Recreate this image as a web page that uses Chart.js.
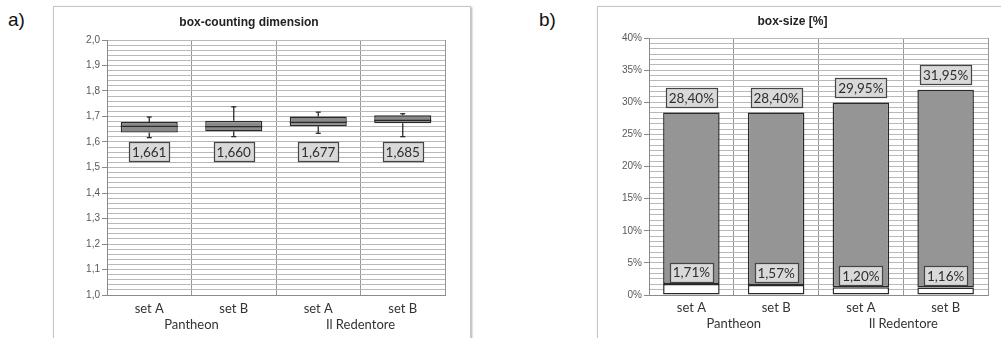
<!DOCTYPE html>
<html>
<head>
<meta charset="utf-8">
<script src="https://cdn.jsdelivr.net/npm/chart.js@4.4.1/dist/chart.umd.min.js"></script>
<style>
  html, body { margin: 0; padding: 0; background: #fff; overflow: hidden; }
  body { width: 1001px; height: 338px; position: relative; }
  .frame { position: absolute; box-sizing: border-box; border: 1px solid #c6c6c6; box-shadow: 1px 1px 2px #b0b0b0; }
  .panel { position: absolute; }
  .tag { position: absolute; font: 19px "Liberation Sans", Arial, sans-serif; color: #111; }
</style>
</head>
<body>
<div class="tag" style="left:8px; top:9px;">a)</div>
<div class="tag" style="left:539px; top:9px;">b)</div>
<div class="frame" style="left:53px; top:6px; width:418px; height:400px;"></div>
<div class="frame" style="left:597px; top:6px; width:430px; height:400px;"></div>
<canvas id="dimChart" class="panel" width="417" height="332" style="left:53px; top:6px;"></canvas>
<canvas id="sizeChart" class="panel" width="415" height="332" style="left:597px; top:6px;"></canvas>
<script>
// categories
const sets = ['set A', 'set B', 'set A', 'set B'];
const groups = ['Pantheon', 'Il Redentore'];

// box-counting dimension (box plot)
const whiskerLow  = [1.617, 1.621, 1.634, 1.621];
const boxLow      = [1.637, 1.642, 1.662, 1.674];
const median      = [1.661, 1.660, 1.677, 1.685];
const boxHigh     = [1.678, 1.683, 1.700, 1.705];
const whiskerHigh = [1.698, 1.738, 1.717, 1.711];

// box-size [%]
const sizeTotal = [28.40, 28.40, 29.95, 31.95];
const sizeMin   = [1.71, 1.57, 1.20, 1.16];

const tickFont = { family: '"Liberation Sans", Arial, sans-serif', size: 10 };
const catFont = { family: 'Lato, sans-serif', size: 13 };
const gridGray = '#b9b9b9';
const axisGray = '#8a8a8a';

function fmt(v, d) { return v.toFixed(d).replace('.', ','); }

function drawTag(ctx, text, cx, cy) {
  ctx.save();
  ctx.font = '13.5px Lato, sans-serif';
  const w = Math.round(ctx.measureText(text).width + 6), h = 19;
  const x0 = Math.round(cx - w / 2) + 0.5, y0 = Math.round(cy - h / 2) + 0.5;
  ctx.fillStyle = '#d9d9d9';
  ctx.fillRect(x0, y0, w, h);
  ctx.strokeStyle = '#454545';
  ctx.lineWidth = 1.2;
  ctx.strokeRect(x0, y0, w, h);
  ctx.fillStyle = '#2e2e2e';
  ctx.textAlign = 'center';
  ctx.textBaseline = 'middle';
  ctx.fillText(text, cx, cy + 1);
  ctx.restore();
}

function line(ctx, x1, y1, x2, y2) {
  ctx.beginPath();
  ctx.moveTo(x1, y1);
  ctx.lineTo(x2, y2);
  ctx.stroke();
}

const boxExtras = {
  id: 'boxExtras',
  afterDatasetsDraw(chart, args, opts) {
    const ctx = chart.ctx, y = chart.scales.y;
    const meta = chart.getDatasetMeta(0);
    ctx.save();
    ctx.strokeStyle = '#2a2a2a';
    ctx.lineWidth = 1.3;
    meta.data.forEach((bar, i) => {
      const cx = bar.x, half = bar.width / 2;
      const ym = y.getPixelForValue(median[i]);
      line(ctx, cx - half, ym, cx + half, ym);
      const yh = y.getPixelForValue(whiskerHigh[i]);
      const yl = y.getPixelForValue(whiskerLow[i]);
      line(ctx, cx, y.getPixelForValue(boxHigh[i]), cx, yh);
      line(ctx, cx - 2.5, yh, cx + 2.5, yh);
      line(ctx, cx, y.getPixelForValue(boxLow[i]), cx, yl);
      line(ctx, cx - 2.5, yl, cx + 2.5, yl);
    });
    ctx.restore();
    meta.data.forEach((bar, i) => {
      drawTag(ctx, fmt(median[i], 3), bar.x, y.getPixelForValue(opts.labelAt));
    });
  }
};

const sizeLabels = {
  id: 'sizeLabels',
  afterDatasetsDraw(chart) {
    const y = chart.scales.y;
    chart.getDatasetMeta(1).data.forEach((bar, i) => {
      drawTag(chart.ctx, fmt(sizeTotal[i], 2) + '%', bar.x, y.getPixelForValue(sizeTotal[i]) - 15);
      drawTag(chart.ctx, fmt(sizeMin[i], 2) + '%', bar.x, y.getPixelForValue(sizeMin[i]) - 12);
    });
  }
};

function xScales(setPad, setH, groupH) {
  return {
    x: {
      labels: sets,
      offset: true,
      stacked: true,
      grid: { offset: true, color: '#979797', drawTicks: false },
      border: { color: axisGray },
      ticks: { font: catFont, color: '#333', padding: setPad, maxRotation: 0 },
      afterFit: s => { s.height = setH; }
    },
    x2: {
      type: 'category',
      labels: groups,
      position: 'bottom',
      weight: 1,
      offset: true,
      grid: { display: false, drawTicks: false },
      border: { display: false },
      ticks: { font: catFont, color: '#333', padding: 0, maxRotation: 0 },
      afterFit: s => { s.height = groupH; }
    }
  };
}

function minorY(min, max, step, every, label, width) {
  return {
    min: min, max: max,
    stacked: true,
    afterBuildTicks: s => {
      const t = [];
      const n = Math.round((max - min) / step);
      for (let i = 0; i <= n; i++) t.push({ value: min + i * step });
      s.ticks = t;
    },
    afterFit: s => { s.width = width; },
    grid: {
      color: gridGray,
      tickLength: 5,
      tickColor: c => (c.index % every === 0 ? axisGray : 'rgba(0,0,0,0)')
    },
    border: { color: axisGray },
    ticks: {
      autoSkip: false,
      padding: 2,
      font: tickFont,
      color: '#595959',
      callback: (v, i) => (i % every === 0 ? label(v) : '')
    }
  };
}

new Chart(document.getElementById('dimChart').getContext('2d'), {
  type: 'bar',
  data: {
    labels: sets,
    datasets: [{
      xAxisID: 'x',
      data: boxLow.map((v, i) => [v, boxHigh[i]]),
      backgroundColor: '#8a8a8a',
      borderColor: '#2a2a2a',
      borderWidth: 1.4,
      borderSkipped: false,
      barPercentage: 0.675,
      categoryPercentage: 1
    }]
  },
  options: {
    responsive: false,
    animation: false,
    layout: { padding: { left: 0, right: 25, top: 0, bottom: 5 } },
    plugins: {
      legend: { display: false },
      tooltip: { enabled: false },
      title: {
        display: true,
        text: 'box-counting dimension',
        color: '#222',
        font: { family: '"Liberation Sans", Arial, sans-serif', size: 12, weight: 'bold', lineHeight: 1.2 },
        padding: { top: 9, bottom: 10.6 }
      },
      boxExtras: { labelAt: 1.563 }
    },
    scales: Object.assign(xScales(6, 22, 16), {
      y: minorY(1, 2, 0.02, 5, v => fmt(v, 1), 54)
    })
  },
  plugins: [boxExtras]
});

new Chart(document.getElementById('sizeChart').getContext('2d'), {
  type: 'bar',
  data: {
    labels: sets,
    datasets: [{
      xAxisID: 'x',
      data: sizeMin,
      backgroundColor: '#ffffff',
      borderColor: '#2a2a2a',
      borderWidth: 1.5,
      borderSkipped: false,
      barPercentage: 0.667,
      categoryPercentage: 1
    }, {
      xAxisID: 'x',
      data: sizeTotal.map((v, i) => v - sizeMin[i]),
      backgroundColor: '#959595',
      borderColor: '#2a2a2a',
      borderWidth: 1.5,
      borderSkipped: false,
      barPercentage: 0.667,
      categoryPercentage: 1
    }]
  },
  options: {
    responsive: false,
    animation: false,
    layout: { padding: { left: 0, right: 24, top: 0, bottom: 6 } },
    plugins: {
      legend: { display: false },
      tooltip: { enabled: false },
      title: {
        display: true,
        text: 'box-size [%]',
        color: '#222',
        font: { family: '"Liberation Sans", Arial, sans-serif', size: 12, weight: 'bold', lineHeight: 1.2 },
        padding: { top: 8, bottom: 9.6 }
      }
    },
    scales: Object.assign(xScales(5, 21, 16), {
      y: minorY(0, 40, 5 / 6, 6, v => Math.round(v) + '%', 52)
    })
  },
  plugins: [sizeLabels]
});
</script>
</body>
</html>
